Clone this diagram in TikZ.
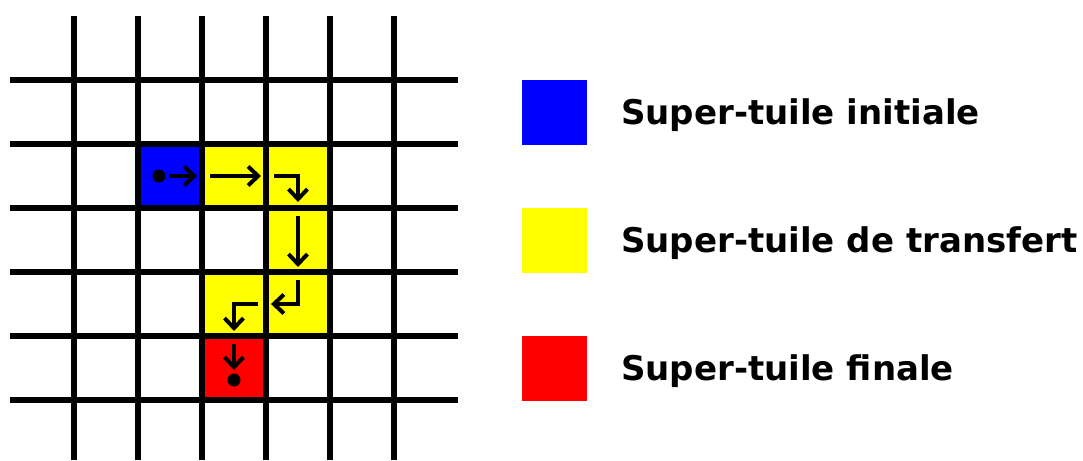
\documentclass[tikz,border=0pt]{standalone}
\usepackage{fontspec}
\setmainfont{DejaVu Sans}
\usetikzlibrary{arrows.meta}
\definecolor{tileblue}{RGB}{0,0,255}
\definecolor{tileyellow}{RGB}{255,255,0}
\definecolor{tilered}{RGB}{255,0,0}
\begin{document}
\begin{tikzpicture}[x=1pt,y=-1pt,
  gridline/.style={line width=5.3pt},
  cell/.style={draw=none,minimum width=64pt,minimum height=64pt,inner sep=0pt,outer sep=0pt},
  legendbox/.style={draw=none,minimum width=65pt,minimum height=65pt,inner sep=0pt},
  legendtext/.style={anchor=west,inner sep=0pt,font=\fontsize{34}{40}\selectfont\bfseries,text height=24pt,text depth=0pt},
  pathline/.style={line width=4pt,miter limit=10,-{Straight Barb[length=10pt,width=19pt,line width=4pt]}},
  startdot/.style={circle,fill=black,inner sep=0pt,minimum size=13pt}]
\useasboundingbox (0,0) rectangle (1083,460);
% coloured cells
\node[cell,fill=tileblue]   (c1) at (170,176) {};
\node[cell,fill=tileyellow] (c2) at (234,176) {};
\node[cell,fill=tileyellow] (c3) at (298,176) {};
\node[cell,fill=tileyellow] (c4) at (298,240) {};
\node[cell,fill=tileyellow] (c5) at (298,304) {};
\node[cell,fill=tileyellow] (c6) at (234,304) {};
\node[cell,fill=tilered]    (c7) at (234,368) {};
% grid
\foreach \x in {74,138,202,266,330,394} \draw[gridline] (\x,16) -- (\x,460);
\foreach \y in {80,144,208,272,336,400} \draw[gridline] (10,\y) -- (458,\y);
% path arrows
\node[startdot] (s) at (159,176) {};
\draw[pathline] (169,176) -- (197,176);
\draw[pathline] (210,176) -- (261,176);
\draw[pathline] (274,176) -- (298,176) -- (298,202);
\draw[pathline] (298,216) -- (298,267);
\draw[pathline] (298,280) -- (298,304) -- (271,304);
\draw[pathline] (258,304) -- (234,304) -- (234,331);
\draw[pathline] (234,344) -- (234,370);
\node[startdot] (e) at (234,380) {};
% legend
\node[legendbox,fill=tileblue]   (l1) at (554.5,112.5) {};
\node[legendbox,fill=tileyellow] (l2) at (554.5,240.5) {};
\node[legendbox,fill=tilered]    (l3) at (554.5,368.5) {};
\node[legendtext] (t1) at (621,112.5) {Super-tuile initiale};
\node[legendtext] (t2) at (621,240.5) {Super-tuile de transfert};
\node[legendtext] (t3) at (621,368.5) {Super-tuile finale};
\end{tikzpicture}
\end{document}
